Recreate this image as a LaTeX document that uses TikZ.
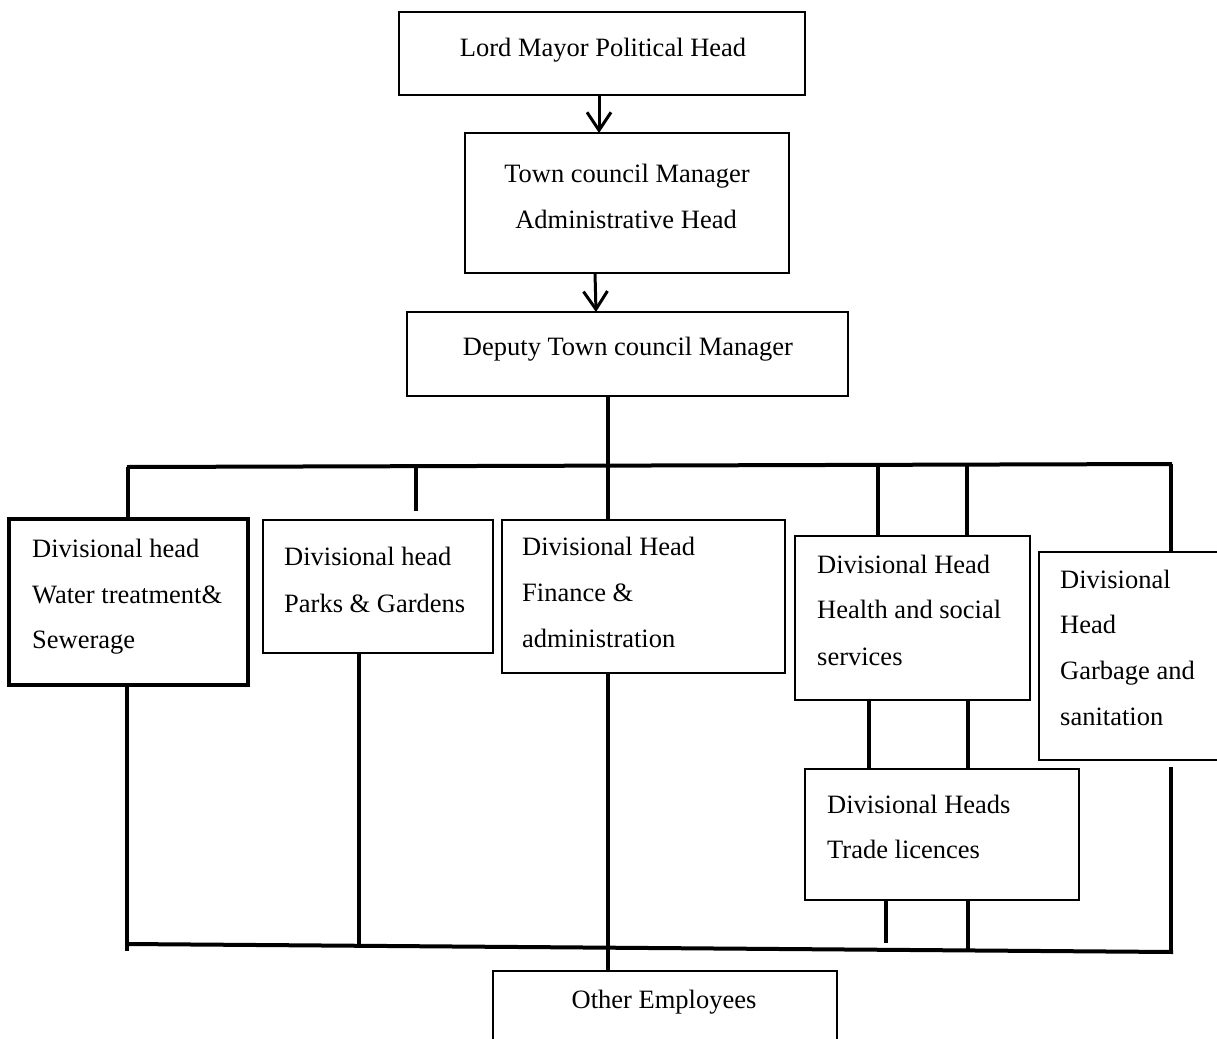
\documentclass[tikz,border=0pt]{standalone}
\usepackage{fontspec}
\setmainfont{Liberation Serif}
\usetikzlibrary{arrows.meta}
\begin{document}
\begin{tikzpicture}[x=1pt,y=-1pt,
  box/.style={draw, line width=2.4pt, inner sep=0pt, outer sep=0pt, anchor=north west},
  thickbox/.style={box, line width=4.6pt},
  txt/.style={inner sep=0pt, anchor=base west, font=\fontsize{26.5}{30}\selectfont},
  ctxt/.style={txt, anchor=base},
  link/.style={line width=3.2pt},
  bus/.style={line width=4pt},
  down/.style={line width=3pt, -{Straight Barb[length=18pt,width=24pt,line width=3pt]}}]
\useasboundingbox (0,0) rectangle (1217,1038);
\clip (0,0) rectangle (1217,1038);

% upper chain of command
\node[box, minimum width=406pt, minimum height=83pt]  (mayor)   at (399,12)  {};
\node[box, minimum width=324pt, minimum height=140pt] (town)    at (465,133) {};
\node[box, minimum width=441pt, minimum height=84pt]  (deputy)  at (407,312) {};
\node[ctxt] (tmayor)  at (603,57)  {Lord Mayor Political Head};
\node[ctxt] (ttown1)  at (627,182) {Town council Manager};
\node[ctxt] (ttown2)  at (626,228) {Administrative Head};
\node[ctxt] (tdeputy) at (628,355) {Deputy Town council Manager};

% divisional heads
\node[thickbox, minimum width=239pt, minimum height=166pt] (water)   at (9,519)    {};
\node[box, minimum width=230pt, minimum height=133pt]      (parks)   at (263,520)  {};
\node[box, minimum width=283pt, minimum height=153pt]      (finance) at (502,520)  {};
\node[box, minimum width=235pt, minimum height=164pt]      (health)  at (795,536)  {};
\node[box, minimum width=200pt, minimum height=208pt]      (garbage) at (1039,552) {};
\node[box, minimum width=274pt, minimum height=131pt]      (trade)   at (805,769)  {};
\node[box, minimum width=344pt, minimum height=100pt]      (other)   at (493,971)  {};

\node[txt] (tw1) at (32,557)  {Divisional head};
\node[txt] (tw2) at (32,603)  {Water treatment\&};
\node[txt] (tw3) at (32,648)  {Sewerage};
\node[txt] (tp1) at (284,565) {Divisional head};
\node[txt] (tp2) at (284,612) {Parks \& Gardens};
\node[txt] (tf1) at (522,555) {Divisional Head};
\node[txt] (tf2) at (522,601) {Finance \&};
\node[txt] (tf3) at (522,647) {administration};
\node[txt] (th1) at (817,573) {Divisional Head};
\node[txt] (th2) at (817,618) {Health and social};
\node[txt] (th3) at (817,665) {services};
\node[txt] (tg1) at (1060,588) {Divisional};
\node[txt] (tg2) at (1060,633) {Head};
\node[txt] (tg3) at (1060,679) {Garbage and};
\node[txt] (tg4) at (1060,725) {sanitation};
\node[txt] (tt1) at (827,813) {Divisional Heads};
\node[txt] (tt2) at (827,858) {Trade licences};
\node[ctxt] (to1) at (664,1008) {Other Employees};

% arrows between the top boxes
\draw[down] (mayor.south -| 599,0) -- (town.north -| 599,0);
\draw[down] (town.south -| 595,0) -- (deputy.north -| 596,0);

% upper bus and its drops
\coordinate (busL) at (127,467);
\coordinate (busR) at (1172,464);
\coordinate (bw) at (128,467);
\coordinate (bp) at (416,466);
\coordinate (pstub) at (416,511);
\coordinate (bf) at (608,466);
\coordinate (bh1) at (878,465);
\coordinate (bh2) at (967,465);
\coordinate (bg) at (1171,464);
\draw[bus] (busL) -- (busR);
\draw[link] (deputy.south -| bf) -- (finance.north -| bf);
\draw[link] (bw) -- (water.north -| bw);
\draw[link] (bp) -- (pstub);
\draw[link] (bh1) -- (health.north -| bh1);
\draw[link] (bh2) -- (health.north -| bh2);
\draw[link] (bg) -- (garbage.north -| bg);

% health to trade licences
\draw[link] (health.south -| 869,0) -- (trade.north -| 869,0);
\draw[link] (health.south -| 968,0) -- (trade.north -| 968,0);

% lower bus and its risers
\coordinate (lowL) at (127,944);
\coordinate (lowR) at (1173,952);
\coordinate (lw) at (127,951);
\coordinate (lp) at (359,946);
\coordinate (lt1) at (886,943);
\coordinate (lt2) at (968,950);
\coordinate (lgtop) at (1171,767);
\coordinate (lg) at (1171,952);
\draw[bus] (lowL) -- (lowR);
\draw[link] (water.south -| lw) -- (lw);
\draw[link] (parks.south -| lp) -- (lp);
\draw[link] (finance.south -| bf) -- (other.north -| bf);
\draw[link] (trade.south -| lt1) -- (lt1);
\draw[link] (trade.south -| lt2) -- (lt2);
\draw[link] (lgtop) -- (lg);
\end{tikzpicture}
\end{document}
